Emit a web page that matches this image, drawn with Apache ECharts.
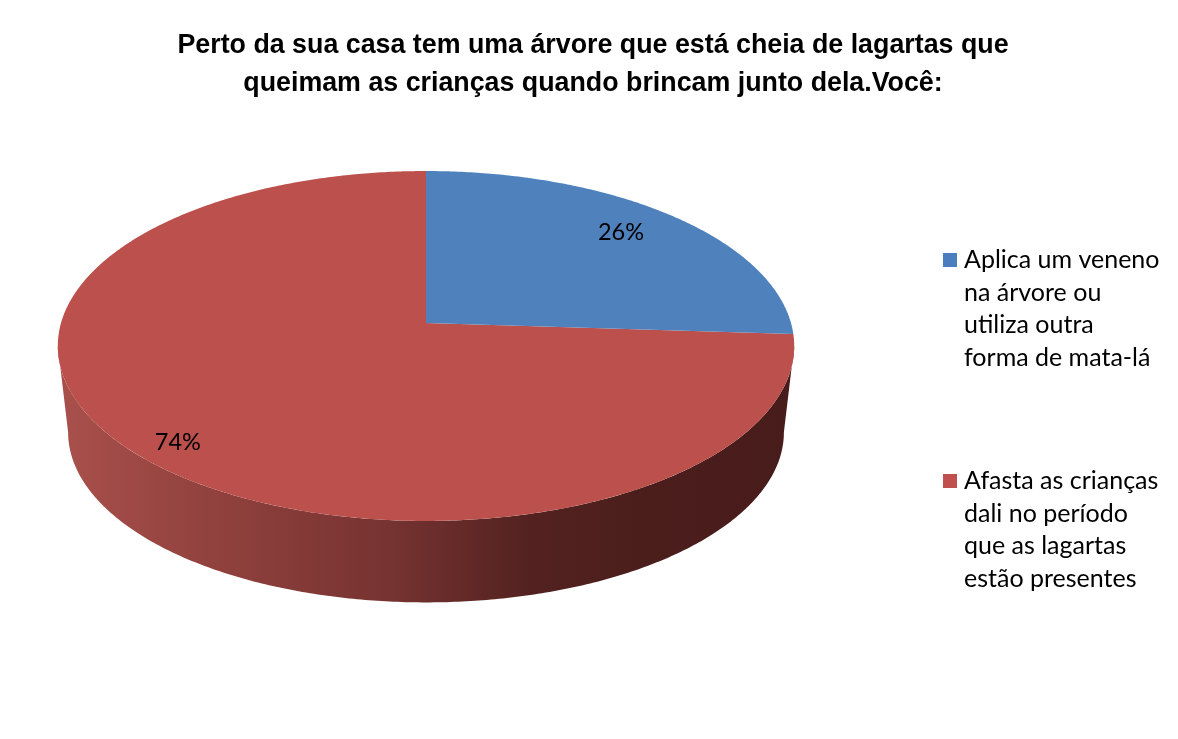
<!DOCTYPE html>
<html>
<head>
<meta charset="utf-8">
<style>html,body{margin:0;padding:0;background:#fff}#c{width:1178px;height:739px}</style>
<script src="https://cdn.jsdelivr.net/npm/echarts@6/dist/echarts.min.js"></script>
</head>
<body>
<div id="c"></div>
<script>
const titleText = 'Perto da sua casa tem uma árvore que está cheia de lagartas que\nqueimam as crianças quando brincam junto dela.Você:';
const categories = ['Aplica um veneno\nna árvore ou\nutiliza outra\nforma de mata-lá', 'Afasta as crianças\ndali no período\nque as lagartas\nestão presentes'];
const values = [26, 74];
const faceColors = ['#4f81bd', '#bc504c'];
const legendColors = ['#4a7ebf', '#c0504d'];
const labelRadius = [0.78, 0.87];
const labelNudge = [[1, -5], [3, 8]];

// Layout of the tilted pie: a circle seen in perspective
const CX = 426, APEX_Y = 323, FAR = -129.5, PERSP = 0.1314, RX = 365, DEPTH = 87, SHRINK = 0.972;
const total = values.reduce((a, b) => a + b, 0);

function project(theta, r) {
  const c = r * Math.cos(theta), s = r * Math.sin(theta), w = 1 + PERSP * c;
  return [CX + RX * s / w, (FAR * c + APEX_Y) / w];
}
function lower(p) {
  return [CX + (p[0] - CX) * SHRINK, APEX_Y + (p[1] - APEX_Y) * SHRINK + DEPTH];
}
function arc(a0, a1) {
  const n = Math.max(2, Math.ceil((a1 - a0) / 0.01)), pts = [];
  for (let i = 0; i <= n; i++) pts.push(project(a0 + (a1 - a0) * i / n, 1));
  return pts;
}
const wallFill = new echarts.graphic.LinearGradient(58, 0, 794, 0, [
  { offset: 0, color: '#a9504c' },
  { offset: 0.2, color: '#92423e' },
  { offset: 0.45, color: '#763331' },
  { offset: 0.64, color: '#532220' },
  { offset: 0.78, color: '#4b1e1c' },
  { offset: 1, color: '#481c1a' }
], true);
const FRONT0 = Math.acos(-PERSP), FRONT1 = 2 * Math.PI - FRONT0;

function renderSlice(index) {
  return function (params, api) {
    const start = api.value(0), val = api.value(1);
    const a0 = start / total * 2 * Math.PI, a1 = (start + val) / total * 2 * Math.PI;
    const children = [];
    const w0 = Math.max(a0, FRONT0), w1 = Math.min(a1, FRONT1);
    if (w1 > w0) {
      const top = arc(w0, w1);
      const bottom = top.map(lower).reverse();
      children.push({ type: 'polygon', shape: { points: top.concat(bottom) }, style: { fill: wallFill } });
    }
    children.push({ type: 'polygon', shape: { points: [project(0, 0)].concat(arc(a0, a1)) }, style: { fill: faceColors[index] } });
    const mid = project((a0 + a1) / 2, labelRadius[index]);
    children.push({ type: 'text', z2: 10, style: { x: mid[0] + labelNudge[index][0], y: mid[1] + labelNudge[index][1], text: val + '%', fill: '#000', font: '23.5px Lato', textAlign: 'center', textVerticalAlign: 'middle' } });
    return { type: 'group', children };
  };
}

let cumulative = 0;
const starts = values.map(v => { const s = cumulative; cumulative += v; return s; });
const drawOrder = [1, 0];

const chart = echarts.init(document.getElementById('c'), null, { renderer: 'canvas' });
chart.setOption({
  animation: false,
  backgroundColor: '#fff',
  title: {
    text: titleText, left: 588, top: 22, textAlign: 'center',
    textStyle: { fontFamily: 'Liberation Sans', fontWeight: 'bold', fontSize: 26.8, lineHeight: 38, color: '#000' }
  },
  legend: {
    data: categories, orient: 'vertical', left: 938, top: 239,
    itemWidth: 14, itemHeight: 130, itemGap: 91, selectedMode: false,
    icon: 'path://M0 0L0 0Z M0 9H14V23H0Z M0 130L0 130Z',
    textStyle: { fontFamily: 'Lato', fontSize: 25, lineHeight: 32.5, color: '#000', padding: [0, 0, 0, 2] }
  },
  series: drawOrder.map(i => ({
    type: 'custom', name: categories[i], coordinateSystem: 'none',
    itemStyle: { color: legendColors[i] },
    data: [[starts[i], values[i]]],
    renderItem: renderSlice(i)
  }))
});
</script>
</body>
</html>
